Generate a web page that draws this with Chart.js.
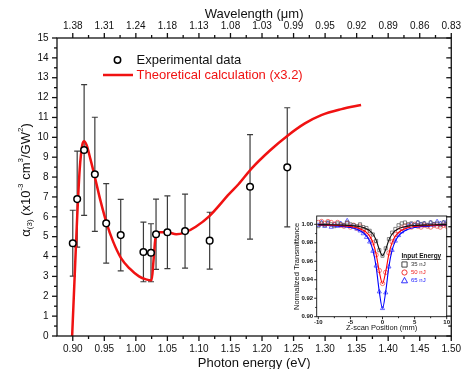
<!DOCTYPE html>
<html>
<head>
<meta charset="utf-8">
<title>Third-order nonlinear absorption spectrum</title>
<script src="https://cdn.jsdelivr.net/npm/chart.js@4.4.0/dist/chart.umd.min.js"></script>
<style>
  html, body { margin: 0; padding: 0; background: #fff; }
  #wrap { position: relative; width: 468px; height: 369px; }
  #main-chart { position: absolute; left: 0; top: 0; }
  #inset-chart { position: absolute; left: 284px; top: 208px; }
</style>
</head>
<body>
<div id="wrap">
  <canvas id="main-chart" width="468" height="369"></canvas>
  <canvas id="inset-chart" width="170" height="128"></canvas>
</div>
<script>
const FONT = "'Liberation Sans', Arial, Helvetica, sans-serif";
const RED = '#f01212';

// experimental alpha(3) with error bars
const expEnergy = [0.900, 0.907, 0.918, 0.935, 0.953, 0.976, 1.012, 1.024, 1.032, 1.050, 1.078, 1.117, 1.181, 1.240];
const expAlpha  = [4.67, 6.89, 9.36, 8.14, 5.67, 5.08, 4.23, 4.19, 5.12, 5.22, 5.28, 4.80, 7.51, 8.49];
const expError  = [1.66, 2.42, 3.29, 2.87, 2.00, 1.80, 1.50, 1.46, 1.77, 1.83, 1.86, 1.43, 2.63, 3.00];

// theoretical curve (x3.2)
const theoryEnergy = [0.899, 0.903, 0.907, 0.911, 0.915, 0.918, 0.922, 0.928, 0.935, 0.944, 0.953, 0.964,
  0.976, 0.990, 1.005, 1.016, 1.025, 1.028, 1.031, 1.037, 1.050, 1.064, 1.077, 1.095, 1.117, 1.148,
  1.163, 1.184, 1.213, 1.240, 1.268, 1.294, 1.326, 1.357];
const theoryAlpha = [0.0, 3.0, 6.0, 8.4, 9.6, 9.8, 9.6, 8.9, 8.0, 6.8, 5.75, 4.75,
  3.95, 3.4, 3.0, 2.85, 2.8, 3.8, 4.9, 5.22, 5.22, 5.12, 5.2, 5.5, 6.05, 7.15,
  7.65, 8.45, 9.35, 10.07, 10.7, 11.12, 11.42, 11.63];

// axis ticks
const energyTicks = [0.90, 0.95, 1.00, 1.05, 1.10, 1.15, 1.20, 1.25, 1.30, 1.35, 1.40, 1.45, 1.50];
const wavelengthLabels = ['1.38', '1.31', '1.24', '1.18', '1.13', '1.08', '1.03', '0.99', '0.95', '0.92', '0.89', '0.86', '0.83'];
const alphaTicks = [0, 1, 2, 3, 4, 5, 6, 7, 8, 9, 10, 11, 12, 13, 14, 15];

// inset: Z-scan traces
const zPos = [-10, -9.5, -9, -8.5, -8, -7.5, -7, -6.5, -6, -5.5, -5, -4.5, -4, -3.5, -3, -2.5, -2, -1.5, -1, -0.5,
  0, 0.5, 1, 1.5, 2, 2.5, 3, 3.5, 4, 4.5, 5, 5.5, 6, 6.5, 7, 7.5, 8, 8.5, 9, 9.5, 10];
const trans35 = [0.998, 1.001, 0.999, 1.002, 1.000, 0.998, 1.001, 1.000, 0.999, 1.002, 1.000, 0.999, 0.998, 1.000,
  0.997, 0.996, 0.993, 0.989, 0.982, 0.972, 0.966, 0.974, 0.984, 0.991, 0.995, 0.999, 1.001, 1.002, 1.000, 1.001,
  0.999, 1.002, 1.000, 1.001, 0.999, 1.002, 1.000, 1.001, 0.999, 1.002, 1.000];
const trans50 = [1.002, 1.003, 1.001, 1.003, 1.002, 1.000, 1.002, 0.999, 0.998, 1.001, 0.997, 0.999, 0.996, 0.998,
  0.994, 0.992, 0.987, 0.980, 0.967, 0.950, 0.936, 0.948, 0.969, 0.981, 0.989, 0.993, 0.996, 0.998, 0.999, 0.997,
  1.000, 0.998, 0.997, 0.999, 0.998, 0.997, 0.999, 0.998, 0.997, 0.999, 0.998];
const trans65 = [0.999, 1.002, 0.998, 1.001, 0.997, 1.000, 0.998, 1.001, 0.999, 1.004, 0.998, 0.997, 0.995, 0.993,
  0.990, 0.986, 0.981, 0.971, 0.955, 0.927, 0.909, 0.926, 0.954, 0.972, 0.982, 0.988, 0.992, 0.995, 0.998, 1.000,
  0.999, 1.002, 1.000, 1.001, 0.999, 1.002, 1.000, 1.003, 1.001, 1.002, 1.003];
const fitZ = [-10, -8, -6, -5, -4, -3, -2.5, -2, -1.5, -1, -0.5, 0, 0.5, 1, 1.5, 2, 2.5, 3, 4, 5, 6, 8, 10];
const fit35 = [0.9997, 0.9995, 0.9991, 0.9987, 0.998, 0.9966, 0.9953, 0.9932, 0.9895, 0.983, 0.9728, 0.966,
  0.9728, 0.983, 0.9895, 0.9932, 0.9953, 0.9966, 0.998, 0.9987, 0.9991, 0.9995, 0.9997];
const fit50 = [0.9994, 0.999, 0.9983, 0.9976, 0.9962, 0.9936, 0.9912, 0.9872, 0.9803, 0.968, 0.9488, 0.936,
  0.9488, 0.968, 0.9803, 0.9872, 0.9912, 0.9936, 0.9962, 0.9976, 0.9983, 0.999, 0.9994];
const fit65 = [0.9991, 0.9986, 0.9975, 0.9965, 0.9946, 0.9909, 0.9874, 0.9818, 0.972, 0.9545, 0.9272, 0.909,
  0.9272, 0.9545, 0.972, 0.9818, 0.9874, 0.9909, 0.9946, 0.9965, 0.9975, 0.9986, 0.9991];
const insetXTicks = [-10, -5, 0, 5, 10];
const insetYTicks = [0.90, 0.92, 0.94, 0.96, 0.98, 1.00];

function pairs(xs, ys) {
  return xs.map((x, i) => ({ x: x, y: ys[i] }));
}
function midpoints(arr) {
  const out = [];
  for (let i = 0; i < arr.length - 1; i++) out.push((arr[i] + arr[i + 1]) / 2);
  return out;
}

// frame + major/minor tick marks (Chart.js has no minor ticks)
function frameTicks(chart, sides, width) {
  const ctx = chart.ctx;
  const a = chart.chartArea;
  ctx.save();
  ctx.strokeStyle = '#111';
  ctx.lineWidth = width;
  ctx.strokeRect(a.left, a.top, a.right - a.left, a.bottom - a.top);
  sides.forEach(s => {
    const scale = chart.scales[s.scale];
    const base = { bottom: a.bottom, top: a.top, left: a.left, right: a.right }[s.edge];
    let dir = (s.edge === 'bottom' || s.edge === 'right') ? 1 : -1;
    if (!s.out) dir = -dir;
    const mark = (v, len) => {
      const p = scale.getPixelForValue(v);
      ctx.beginPath();
      if (s.edge === 'bottom' || s.edge === 'top') {
        ctx.moveTo(p, base);
        ctx.lineTo(p, base + dir * len);
      } else {
        ctx.moveTo(base, p);
        ctx.lineTo(base + dir * len, p);
      }
      ctx.stroke();
    };
    s.major.forEach(v => mark(v, s.majorLen));
    s.minor.forEach(v => mark(v, s.minorLen));
  });
  ctx.restore();
}

const errorBars = {
  id: 'errorBars',
  beforeDatasetsDraw(chart) {
    const { ctx, scales: { x, y } } = chart;
    ctx.save();
    ctx.strokeStyle = '#3c3c3c';
    ctx.lineWidth = 1.2;
    expEnergy.forEach((e, i) => {
      const px = x.getPixelForValue(e);
      const top = y.getPixelForValue(expAlpha[i] + expError[i]);
      const bot = y.getPixelForValue(expAlpha[i] - expError[i]);
      ctx.beginPath();
      ctx.moveTo(px, top); ctx.lineTo(px, bot);
      ctx.moveTo(px - 3, top); ctx.lineTo(px + 3, top);
      ctx.moveTo(px - 3, bot); ctx.lineTo(px + 3, bot);
      ctx.stroke();
    });
    ctx.restore();
  }
};

const mainDecor = {
  id: 'mainDecor',
  afterDraw(chart) {
    const ctx = chart.ctx;
    const alphaMinor = midpoints(alphaTicks);
    const energyMinor = midpoints(energyTicks);
    frameTicks(chart, [
      { scale: 'x', edge: 'bottom', out: true, major: energyTicks, minor: energyMinor, majorLen: 5, minorLen: 3 },
      { scale: 'x2', edge: 'top', out: true, major: energyTicks, minor: energyMinor, majorLen: 5, minorLen: 3 },
      { scale: 'y', edge: 'left', out: true, major: alphaTicks, minor: alphaMinor, majorLen: 5, minorLen: 3 },
      { scale: 'y', edge: 'right', out: false, major: alphaTicks, minor: alphaMinor, majorLen: 5, minorLen: 3 }
    ], 1.3);

    // legend
    ctx.save();
    ctx.font = '13px ' + FONT;
    ctx.textBaseline = 'middle';
    ctx.beginPath();
    ctx.arc(117.5, 60, 3.2, 0, Math.PI * 2);
    ctx.fillStyle = '#fff';
    ctx.fill();
    ctx.lineWidth = 1.5;
    ctx.strokeStyle = '#000';
    ctx.stroke();
    ctx.fillStyle = '#111';
    ctx.fillText('Experimental data', 136.5, 60);
    ctx.beginPath();
    ctx.moveTo(103, 75); ctx.lineTo(133, 75);
    ctx.lineWidth = 2.5;
    ctx.strokeStyle = RED;
    ctx.stroke();
    ctx.fillStyle = RED;
    ctx.fillText('Theoretical calculation (x3.2)', 136.5, 75);
    ctx.restore();

    // y axis title with sub/superscripts
    const parts = [
      { t: 'α', size: 13, dy: 0 },
      { t: '(3)', size: 8, dy: 4 },
      { t: ' (x10', size: 13, dy: 0 },
      { t: '-3', size: 8, dy: -5 },
      { t: ' cm', size: 13, dy: 0 },
      { t: '3', size: 8, dy: -5 },
      { t: '/GW', size: 13, dy: 0 },
      { t: '2', size: 8, dy: -5 },
      { t: ')', size: 13, dy: 0 }
    ];
    ctx.save();
    ctx.fillStyle = '#111';
    ctx.textBaseline = 'middle';
    let total = 0;
    parts.forEach(p => { ctx.font = p.size + 'px ' + FONT; p.w = ctx.measureText(p.t).width; total += p.w; });
    ctx.translate(25, 180);
    ctx.rotate(-Math.PI / 2);
    let cx = -total / 2;
    parts.forEach(p => {
      ctx.font = p.size + 'px ' + FONT;
      ctx.fillText(p.t, cx, p.dy + 1);
      cx += p.w;
    });
    ctx.restore();
  }
};

const tickFont = { family: FONT, size: 10 };
const noGrid = { display: false, drawTicks: false };

new Chart(document.getElementById('main-chart'), {
  type: 'scatter',
  data: {
    datasets: [
      {
        label: 'Experimental data',
        data: pairs(expEnergy, expAlpha),
        pointRadius: 3.3,
        pointBorderWidth: 1.5,
        pointBackgroundColor: '#fff',
        pointBorderColor: '#000',
        showLine: false
      },
      {
        label: 'Theoretical calculation (x3.2)',
        type: 'line',
        data: pairs(theoryEnergy, theoryAlpha),
        borderColor: RED,
        borderWidth: 2.5,
        pointRadius: 0,
        fill: false,
        cubicInterpolationMode: 'monotone'
      }
    ]
  },
  options: {
    responsive: false,
    animation: false,
    events: [],
    layout: { padding: { left: 0, right: 14, top: 0, bottom: 0 } },
    plugins: { legend: { display: false }, tooltip: { enabled: false } },
    scales: {
      x: {
        type: 'linear',
        position: 'bottom',
        min: 0.875,
        max: 1.5,
        grid: noGrid,
        border: { display: false },
        afterBuildTicks: s => { s.ticks = energyTicks.map(v => ({ value: v })); },
        afterFit: s => { s.height = 33; },
        ticks: {
          autoSkip: false, maxRotation: 0, padding: 7, color: '#111', font: tickFont,
          callback: v => v.toFixed(2)
        },
        title: {
          display: true, text: 'Photon energy (eV)', color: '#111',
          font: { family: FONT, size: 13, lineHeight: 1 }, padding: { top: 0, bottom: -0.5 }
        }
      },
      x2: {
        type: 'linear',
        position: 'top',
        min: 0.875,
        max: 1.5,
        grid: noGrid,
        border: { display: false },
        afterBuildTicks: s => { s.ticks = energyTicks.map(v => ({ value: v })); },
        afterFit: s => { s.height = 38; },
        ticks: {
          autoSkip: false, maxRotation: 0, padding: 6, color: '#111', font: tickFont,
          callback: (v, i) => wavelengthLabels[i]
        },
        title: {
          display: true, text: 'Wavelength (μm)', color: '#111',
          font: { family: FONT, size: 13, lineHeight: 1 }, padding: { top: 7.5, bottom: 0 }
        }
      },
      y: {
        type: 'linear',
        min: 0,
        max: 15,
        grid: noGrid,
        border: { display: false },
        afterBuildTicks: s => { s.ticks = alphaTicks.map(v => ({ value: v })); },
        afterFit: s => { s.width = 57; },
        ticks: { autoSkip: false, padding: 8.5, color: '#111', font: tickFont }
      }
    }
  },
  plugins: [errorBars, mainDecor]
});

// ---------- inset ----------
const insetDecor = {
  id: 'insetDecor',
  afterDraw(chart) {
    const ctx = chart.ctx;
    frameTicks(chart, [
      { scale: 'x', edge: 'bottom', out: true, major: insetXTicks, minor: midpoints(insetXTicks), majorLen: 2.5, minorLen: 1.5 },
      { scale: 'y', edge: 'left', out: true, major: insetYTicks, minor: midpoints(insetYTicks), majorLen: 2.5, minorLen: 1.5 }
    ], 0.9);

    ctx.save();
    ctx.fillStyle = '#111';
    ctx.textBaseline = 'middle';
    ctx.font = 'bold 6.5px ' + FONT;
    ctx.fillText('Input Energy', 117.5, 48);
    const w = ctx.measureText('Input Energy').width;
    ctx.strokeStyle = '#111';
    ctx.lineWidth = 0.6;
    ctx.beginPath();
    ctx.moveTo(117.5, 51.5); ctx.lineTo(117.5 + w, 51.5);
    ctx.stroke();

    const entries = [
      { label: '35 nJ', color: '#333', shape: 'rect', y: 56.5 },
      { label: '50 nJ', color: '#ee2020', shape: 'circle', y: 64.5 },
      { label: '65 nJ', color: '#1a1aff', shape: 'triangle', y: 72.5 }
    ];
    ctx.font = '6px ' + FONT;
    ctx.lineWidth = 0.9;
    entries.forEach(e => {
      ctx.strokeStyle = e.color;
      ctx.beginPath();
      const mx = 120.5, r = 2.6;
      if (e.shape === 'rect') ctx.rect(mx - r, e.y - r, 2 * r, 2 * r);
      else if (e.shape === 'circle') ctx.arc(mx, e.y, r, 0, Math.PI * 2);
      else { ctx.moveTo(mx, e.y - r - 0.5); ctx.lineTo(mx + r + 0.4, e.y + r - 0.3); ctx.lineTo(mx - r - 0.4, e.y + r - 0.3); ctx.closePath(); }
      ctx.stroke();
      ctx.fillStyle = e.color;
      ctx.fillText(e.label, 127, e.y);
    });
    ctx.restore();
  }
};

const insetTickFont = { family: FONT, size: 6, weight: 'bold' };

new Chart(document.getElementById('inset-chart'), {
  type: 'scatter',
  data: {
    datasets: [
      { type: 'line', label: '35 nJ fit', data: pairs(fitZ, fit35), borderColor: '#111', borderWidth: 1.1, pointRadius: 0, cubicInterpolationMode: 'monotone' },
      { type: 'line', label: '50 nJ fit', data: pairs(fitZ, fit50), borderColor: '#ff0000', borderWidth: 1.1, pointRadius: 0, cubicInterpolationMode: 'monotone' },
      { type: 'line', label: '65 nJ fit', data: pairs(fitZ, fit65), borderColor: '#0000ff', borderWidth: 1.1, pointRadius: 0, cubicInterpolationMode: 'monotone' },
      { label: '35 nJ', data: pairs(zPos, trans35), pointStyle: 'rect', pointRadius: 2.2, pointBorderWidth: 0.7, pointBorderColor: '#555', pointBackgroundColor: 'rgba(0,0,0,0)' },
      { label: '50 nJ', data: pairs(zPos, trans50), pointStyle: 'circle', pointRadius: 2.2, pointBorderWidth: 0.7, pointBorderColor: '#f04040', pointBackgroundColor: 'rgba(0,0,0,0)' },
      { label: '65 nJ', data: pairs(zPos, trans65), pointStyle: 'triangle', pointRadius: 2.4, pointBorderWidth: 0.7, pointBorderColor: '#3030ff', pointBackgroundColor: 'rgba(0,0,0,0)' }
    ]
  },
  options: {
    responsive: false,
    animation: false,
    events: [],
    layout: { padding: { left: 0, right: 7.3, top: 8, bottom: 0 } },
    plugins: { legend: { display: false }, tooltip: { enabled: false } },
    scales: {
      x: {
        type: 'linear',
        min: -10.25,
        max: 10,
        grid: noGrid,
        border: { display: false },
        afterBuildTicks: s => { s.ticks = insetXTicks.map(v => ({ value: v })); },
        afterFit: s => { s.height = 19.3; },
        ticks: { autoSkip: false, maxRotation: 0, padding: 2, color: '#111', font: insetTickFont },
        title: {
          display: true, text: 'Z-scan Position (mm)', color: '#111',
          font: { family: FONT, size: 7.5, lineHeight: 1 }, padding: { top: 0, bottom: 4.5 }
        }
      },
      y: {
        type: 'linear',
        min: 0.9,
        max: 1.009,
        grid: noGrid,
        border: { display: false },
        afterBuildTicks: s => { s.ticks = insetYTicks.map(v => ({ value: v })); },
        afterFit: s => { s.width = 32.7; },
        ticks: { autoSkip: false, padding: 3.5, color: '#111', font: insetTickFont, callback: v => v.toFixed(2) },
        title: {
          display: true, text: 'Normalized Transmittance', color: '#111',
          font: { family: FONT, size: 7.5, lineHeight: 1 }, padding: { top: 9.3, bottom: 0 }
        }
      }
    }
  },
  plugins: [insetDecor]
});
</script>
</body>
</html>
